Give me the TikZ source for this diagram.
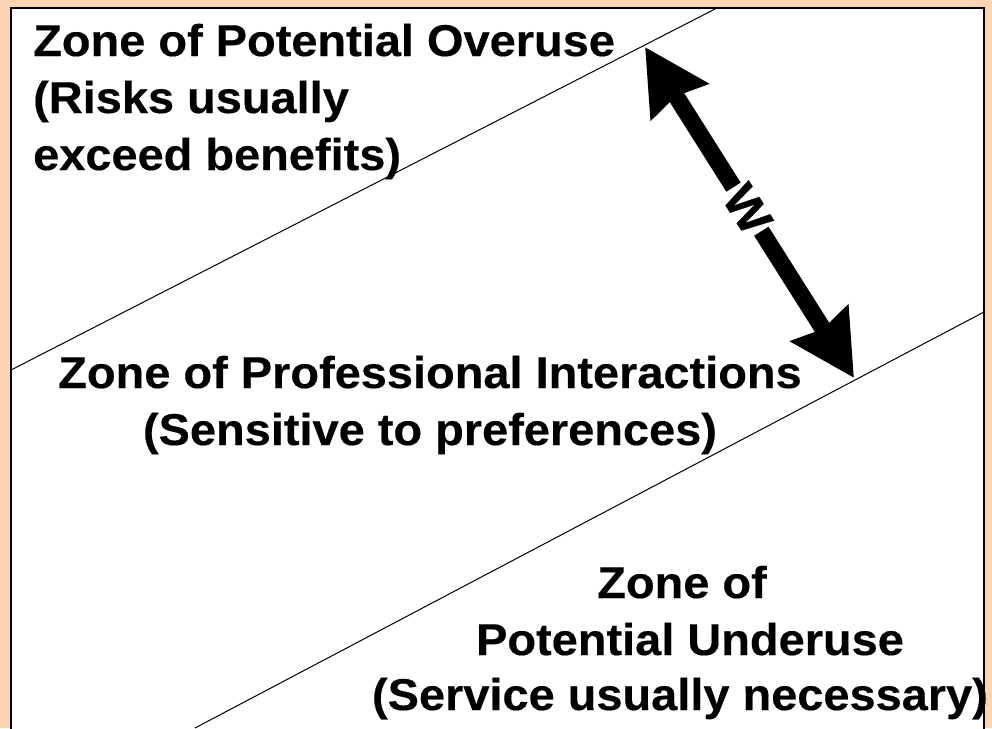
\documentclass[tikz,border=0pt]{standalone}
\usepackage{fontspec}
\newfontfamily\zonefont[FakeStretch=1.055,FakeBold=0.35]{Liberation Sans}
\usetikzlibrary{arrows.meta,calc}
\definecolor{peach}{RGB}{252,213,180}
\tikzset{
  zonetext/.style={inner sep=0pt, font=\zonefont\bfseries\fontsize{44.5}{57}\selectfont},
  zoneline/.style={draw=black, line width=1pt},
  bigarrow/.style={line width=17pt, {Stealth[length=64pt,width=66pt,inset=6pt]}-{Stealth[length=64pt,width=66pt,inset=6pt]}},
  wlabel/.style={fill=white, inner sep=2pt, font=\zonefont\bfseries\fontsize{48}{50}\selectfont}
}
\begin{document}
\begin{tikzpicture}[x=1pt,y=-1pt]
\useasboundingbox (0,0) rectangle (992,728);
\clip (0,0) rectangle (992,728);
\fill[peach] (0,0) rectangle (992,728);
\draw[fill=white, line width=1.2pt] (11,8) rectangle (984,760);
% zone boundaries
\coordinate (l1a) at (717,8);
\coordinate (l1b) at (11,370);
\coordinate (l2a) at (984,312);
\coordinate (l2b) at (195,728);
\draw[zoneline] (l1a) -- (l1b);
\draw[zoneline] (l2a) -- (l2b);
% width arrow
\coordinate (top) at (645,47);
\coordinate (bot) at (854,378);
\draw[bigarrow] (top) -- (bot);
\node[wlabel, rotate=-57.7] (w) at ($(top)!0.49!(bot)$) {W};
% texts
\node[zonetext, anchor=base west] (o1) at (33,56) {Zone of Potential Overuse};
\node[zonetext, anchor=base west] (o2) at (33,113) {(Risks usually};
\node[zonetext, anchor=base west] (o3) at (33,170) {exceed benefits)};
\node[zonetext, anchor=base] (p1) at (430,388) {Zone of Professional Interactions};
\node[zonetext, anchor=base] (p2) at (430,445) {(Sensitive to preferences)};
\node[zonetext, anchor=base] (u1) at (682,598) {Zone of};
\node[zonetext, anchor=base] (u2) at (690,655) {Potential Underuse};
\node[zonetext, anchor=base] (u3) at (680,710) {(Service usually necessary)};
\end{tikzpicture}
\end{document}
